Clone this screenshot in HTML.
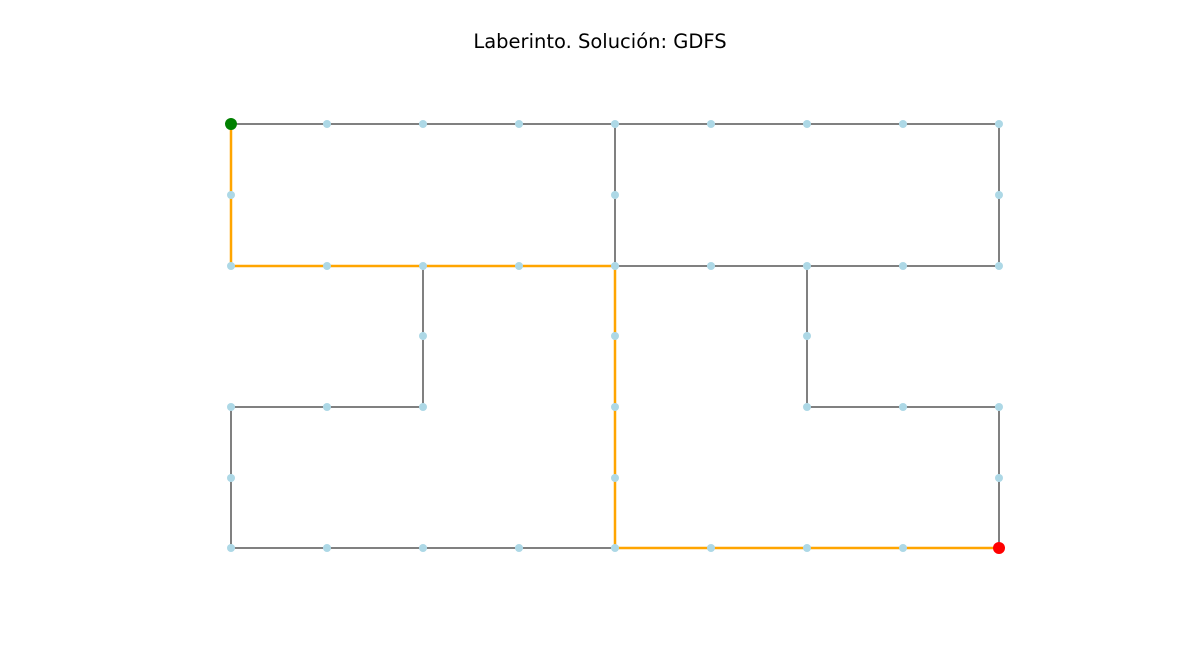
<!DOCTYPE html>
<html><head><meta charset="utf-8"><style>html,body{margin:0;padding:0;background:#fff}</style></head>
<body>
<svg width="1200" height="666" xmlns="http://www.w3.org/2000/svg">
<rect width="1200" height="666" fill="#fff"/>
<text x="600" y="48" text-anchor="middle" font-family="DejaVu Sans, Liberation Sans, sans-serif" font-size="19.5" fill="#000">Laberinto. Solución: GDFS</text>
<g stroke="#000" stroke-width="1" fill="none" shape-rendering="crispEdges">
<path d="M231 124H999 M615 124V266 M999 124V266 M615 266H999 M807 266V407 M807 407H999 M999 407V548 M423 266V407 M231 407H423 M231 407V548 M231 548H615"/>
</g>
<path d="M231 124V266H615V548H999" stroke="#FFA500" stroke-width="2.5" fill="none"/>
<g fill="#ADD8E6">
<circle cx="327" cy="124" r="4"/><circle cx="423" cy="124" r="4"/><circle cx="519" cy="124" r="4"/><circle cx="615" cy="124" r="4"/><circle cx="711" cy="124" r="4"/><circle cx="807" cy="124" r="4"/><circle cx="903" cy="124" r="4"/><circle cx="999" cy="124" r="4"/>
<circle cx="231" cy="195" r="4"/><circle cx="615" cy="195" r="4"/><circle cx="999" cy="195" r="4"/>
<circle cx="231" cy="266" r="4"/><circle cx="327" cy="266" r="4"/><circle cx="423" cy="266" r="4"/><circle cx="519" cy="266" r="4"/><circle cx="615" cy="266" r="4"/><circle cx="711" cy="266" r="4"/><circle cx="807" cy="266" r="4"/><circle cx="903" cy="266" r="4"/><circle cx="999" cy="266" r="4"/>
<circle cx="423" cy="336" r="4"/><circle cx="615" cy="336" r="4"/><circle cx="807" cy="336" r="4"/>
<circle cx="231" cy="407" r="4"/><circle cx="327" cy="407" r="4"/><circle cx="423" cy="407" r="4"/><circle cx="615" cy="407" r="4"/><circle cx="807" cy="407" r="4"/><circle cx="903" cy="407" r="4"/><circle cx="999" cy="407" r="4"/>
<circle cx="231" cy="478" r="4"/><circle cx="615" cy="478" r="4"/><circle cx="999" cy="478" r="4"/>
<circle cx="231" cy="548" r="4"/><circle cx="327" cy="548" r="4"/><circle cx="423" cy="548" r="4"/><circle cx="519" cy="548" r="4"/><circle cx="615" cy="548" r="4"/><circle cx="711" cy="548" r="4"/><circle cx="807" cy="548" r="4"/><circle cx="903" cy="548" r="4"/>
</g>
<circle cx="231" cy="124" r="6" fill="#008000"/>
<circle cx="999" cy="548" r="6" fill="#FF0000"/>
</svg>
</body></html>
